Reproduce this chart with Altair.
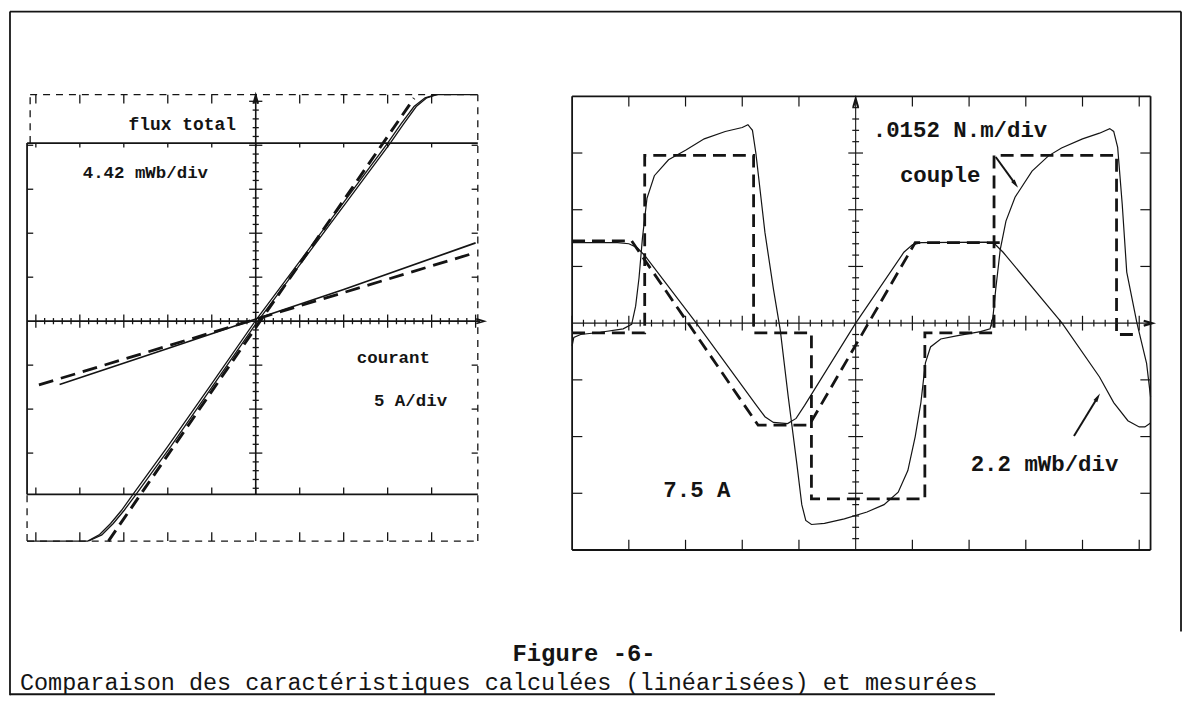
import altair as alt
import pandas as pd
import numpy as np

# ---------------- layout constants (page pixels) ----------------
W, H = 1180, 688
M = 8  # page margin
# left panel: origin and pixels per division
L_OX, L_OY, L_S = 257.0, 320.0, 44.2
# right panel
R_OX, R_OY, R_SX, R_SY = 860.0, 322.0, 57.0, 57.0

# ---------------- data: left panel (divisions) ----------------
# measured flux-current loop (two close branches)
lm1_x = [-5.2, -3.82, -3.55, -3.3, -3.05, -2.8, -2.0, -1.0, 0.0, 1.0, 2.0, 3.0, 3.3, 3.6, 3.85, 4.1, 5.05]
lm1_y = [-5.0, -5.0, -4.85, -4.6, -4.3, -3.95, -2.85, -1.42, 0.02, 1.36, 2.7, 4.05, 4.48, 4.88, 5.08, 5.15, 5.15]
lm2_x = [-3.80, -3.50, -3.24, -2.99, -2.73, -1.93, -0.94, 0.06, 1.06, 2.06, 3.06, 3.36, 3.65, 3.89, 4.12]
lm2_y = [-5.0, -4.86, -4.6, -4.3, -3.95, -2.85, -1.42, 0.02, 1.36, 2.7, 4.05, 4.48, 4.88, 5.08, 5.15]
# calculated (linearised) steep line
lc1_x = [-3.35, 3.6]
lc1_y = [-5.0, 5.07]
# measured shallow line
lm3_x = [-4.46, -2.0, 0.0, 2.0, 5.0]
lm3_y = [-1.44, -0.62, 0.05, 0.72, 1.78]
# calculated shallow line
lc2_x = [-4.93, 5.0]
lc2_y = [-1.45, 1.56]

left_text = ["flux total", "4.42 mWb/div", "courant", "5 A/div"]
left_text_x = [-1.67, -2.51, 3.13, 3.52]
left_text_y = [4.46, 3.37, -0.83, -1.81]

# ---------------- data: right panel (divisions) ----------------
flux_meas_x = [-5.0, -4.2, -4.0, -3.85, -3.7, -2.81, -1.75, -1.6, -1.45, -1.2, -1.05, -0.9, 0.0,
               0.85, 1.0, 1.15, 2.3, 2.45, 2.6, 3.64, 4.3, 4.55, 4.8, 5.0, 5.1, 5.2]
flux_meas_y = [1.42, 1.42, 1.40, 1.33, 1.17, 0.0, -1.45, -1.65, -1.75, -1.77, -1.68, -1.45, 0.0,
               1.25, 1.38, 1.42, 1.43, 1.40, 1.25, 0.0, -0.95, -1.40, -1.72, -1.83, -1.83, -1.76]
flux_calc_x = [-5.0, -3.95, -1.72, -0.82, 1.05, 2.6]
flux_calc_y = [1.45, 1.45, -1.80, -1.80, 1.42, 1.42]

torque_meas_x = [-5.0, -4.97, -4.85, -4.5, -4.1, -3.95, -3.88, -3.82, -3.76, -3.68, -3.55, -3.3, -3.0,
                 -2.67, -2.3, -2.0, -1.9, -1.82, -1.76, -1.6, -1.45, -1.33, -1.19, -1.04, -0.95, -0.88,
                 -0.78, -0.55, -0.2, 0.2, 0.5, 0.75, 0.92, 1.05, 1.15, 1.23, 1.32, 1.5, 1.8, 2.2, 2.37,
                 2.42, 2.47, 2.55, 2.65, 2.81, 3.11, 3.4, 3.63, 4.0, 4.3, 4.48, 4.55, 4.62, 4.7, 4.78,
                 4.96, 5.13, 5.2]
torque_meas_y = [-0.4, -0.25, -0.2, -0.16, -0.1, -0.02, 0.3, 0.8, 1.5, 2.2, 2.6, 2.88, 3.05,
                 3.25, 3.38, 3.45, 3.5, 3.4, 3.0, 1.6, 0.6, -0.12, -1.29, -2.46, -3.2, -3.48,
                 -3.55, -3.53, -3.45, -3.33, -3.2, -2.98, -2.6, -2.0, -1.4, -0.7, -0.42, -0.28, -0.22, -0.15, -0.1,
                 0.1, 0.6, 1.3, 1.8, 2.22, 2.68, 2.95, 3.09, 3.25, 3.35, 3.43, 3.38, 3.1, 2.1, 0.9,
                 0.0, -0.71, -1.3]
torque_calc_x = [-5.0, -3.72, -3.72, -1.8, -1.8, -0.78, -0.78, 1.22, 1.22, 2.44, 2.44, 4.6, 4.6, 4.9]
torque_calc_y = [-0.17, -0.17, 2.96, 2.96, -0.17, -0.17, -3.1, -3.1, -0.17, -0.17, 2.96, 2.96, -0.2, -0.2]

right_text = [".0152 N.m/div", "couple", "7.5 A", "2.2 mWb/div"]
right_text_x = [1.84, 1.49, -2.8, 3.33]
right_text_y = [3.40, 2.62, -2.95, -2.49]
# annotation arrows: start -> end
arrow_x0 = [2.47, 3.85]
arrow_y0 = [2.93, -1.99]
arrow_x1 = [2.81, 4.26]
arrow_y1 = [2.46, -1.32]
arrow_angle = [144, 31]

# ---------------- caption ----------------
cap_text = ["Figure -6-", "Comparaison des caractéristiques calculées (linéarisées) et mesurées"]

INK = "#141414"
FONT = "Liberation Mono"


def sc_x(ox, s):
    return alt.Scale(domain=[(M - ox) / s, (M + W - ox) / s], nice=False, zero=False)


def sc_y(oy, s):
    return alt.Scale(domain=[(oy - (M + H)) / s, (oy - M) / s], nice=False, zero=False)


def segs(rows):
    return pd.DataFrame(rows, columns=["x", "y", "x2", "y2"])


def rule_layer(df, sx, sy, width=1.4, dash=None, color=INK):
    kw = dict(strokeWidth=width, color=color)
    if dash:
        kw["strokeDash"] = dash
    return alt.Chart(df).mark_rule(**kw).encode(
        x=alt.X("x:Q", scale=sx, axis=None), x2="x2:Q",
        y=alt.Y("y:Q", scale=sy, axis=None), y2="y2:Q")


def line_layer(xs, ys, sx, sy, width=1.2, dash=None):
    df = pd.DataFrame({"x": xs, "y": ys, "i": range(len(xs))})
    kw = dict(strokeWidth=width, color=INK, strokeCap="butt")
    if dash:
        kw["strokeDash"] = dash
    return alt.Chart(df).mark_line(**kw).encode(
        x=alt.X("x:Q", scale=sx, axis=None), y=alt.Y("y:Q", scale=sy, axis=None), order="i:Q")


def text_layer(txt, xs, ys, sx, sy, size, weight="bold", align="center"):
    df = pd.DataFrame({"t": txt, "x": xs, "y": ys})
    return alt.Chart(df).mark_text(font=FONT, fontSize=size, fontWeight=weight, color=INK,
                                   align=align, baseline="middle").encode(
        x=alt.X("x:Q", scale=sx, axis=None), y=alt.Y("y:Q", scale=sy, axis=None), text="t:N")


def point_layer(xs, ys, sx, sy, shape, size, angle=0, filled=False, width=1.6):
    df = pd.DataFrame({"x": xs, "y": ys})
    return alt.Chart(df).mark_point(shape=shape, size=size, angle=angle, filled=filled,
                                    color=INK, strokeWidth=width, opacity=1).encode(
        x=alt.X("x:Q", scale=sx, axis=None), y=alt.Y("y:Q", scale=sy, axis=None))


UP = "M -0.55 0.9 L 0 -1 L 0.55 0.9"
RIGHT = "M -0.9 -0.55 L 1 0 L -0.9 0.55"
HEAD = "M 0 -1 L 0.42 0.7 L -0.42 0.7 Z"

# ================= LEFT PANEL =================
lsx, lsy = sc_x(L_OX, L_S), sc_y(L_OY, L_S)
L_LEFT, L_RIGHT, L_TOP, L_BOT = -5.2, 5.05, 5.15, -5.0
L_STOP, L_SBOT = 4.05, -3.94
minor = np.round(np.arange(-5.0, 5.01, 0.2), 2)
major = np.arange(-5, 6)

l_solid = segs([
    [L_LEFT, L_STOP, L_RIGHT, L_STOP],
    [L_LEFT, L_SBOT, L_RIGHT, L_SBOT],
    [L_LEFT, L_SBOT, L_LEFT, L_STOP],
])
l_axes = segs([
    [L_LEFT, 0, 5.1, 0],
    [0, L_SBOT, 0, L_TOP],
])
l_dash = segs([
    [-5.13, L_TOP, L_RIGHT, L_TOP],
    [L_LEFT, L_BOT, L_RIGHT, L_BOT],
    [-5.13, L_STOP, -5.13, L_TOP],
    [L_LEFT, L_BOT, L_LEFT, L_SBOT],
    [L_RIGHT, L_BOT, L_RIGHT, L_TOP],
])
rows = []
for v in minor:
    if abs(v) < 1e-9:
        continue
    big = abs(v - round(v)) < 1e-9
    h = 0.15 if big else 0.07
    rows.append([v, -h, v, h])                       # x-axis ticks
    if L_SBOT <= v <= L_TOP:
        rows.append([-h, v, h, v])                   # y-axis ticks
for v in major:
    if v < 5:
        rows.append([v, L_TOP, v, L_TOP - 0.2])      # top dashed border
        rows.append([v, L_BOT, v, L_BOT + 0.2])      # bottom dashed border
        rows.append([v, L_SBOT, v, L_SBOT + 0.16])   # lower solid line
        rows.append([v, L_STOP, v, L_STOP - 0.1])    # upper solid line
    if -3 <= v <= 4 and v != 0:
        rows.append([L_LEFT, v, L_LEFT + 0.14, v])
        rows.append([L_RIGHT, v, L_RIGHT - 0.14, v])
l_ticks = segs(rows)

left = alt.layer(
    rule_layer(l_dash, lsx, lsy, width=1.3, dash=[7, 6]),
    rule_layer(l_solid, lsx, lsy, width=1.8),
    rule_layer(l_axes, lsx, lsy, width=1.6),
    rule_layer(l_ticks, lsx, lsy, width=1.3),
    line_layer(lc1_x, lc1_y, lsx, lsy, width=3.0, dash=[13, 7]),
    line_layer(lc2_x, lc2_y, lsx, lsy, width=2.8, dash=[15, 8]),
    line_layer(lm1_x, lm1_y, lsx, lsy, width=1.3),
    line_layer(lm2_x, lm2_y, lsx, lsy, width=1.3),
    line_layer(lm3_x, lm3_y, lsx, lsy, width=1.7),
    point_layer([0], [L_TOP - 0.12], lsx, lsy, UP, 70, width=2.2),
    point_layer([5.1], [0], lsx, lsy, RIGHT, 70, width=1.6),
    text_layer(left_text[:1], left_text_x[:1], left_text_y[:1], lsx, lsy, 18),
    text_layer(left_text[1:], left_text_x[1:], left_text_y[1:], lsx, lsy, 17.5),
)

# ================= RIGHT PANEL =================
rsx, rsy = sc_x(R_OX, R_SX), sc_y(R_OY, R_SY)
R_LEFT, R_RIGHT, R_TOP, R_BOT = -5.0, 5.2, 4.0, -4.0
r_frame = segs([
    [R_LEFT, R_TOP, R_RIGHT, R_TOP],
    [R_LEFT, R_BOT, R_RIGHT, R_BOT],
    [R_LEFT, R_BOT, R_LEFT, R_TOP],
    [R_RIGHT, R_BOT, R_RIGHT, R_TOP],
])
r_axes = segs([
    [R_LEFT, 0, R_RIGHT, 0],
    [0, R_BOT, 0, R_TOP],
])
rows = []
for v in minor:
    if abs(v) < 1e-9:
        continue
    big = abs(v - round(v)) < 1e-9
    h = 0.13 if big else 0.06
    rows.append([v, -h, v, h])
    if R_BOT < v < R_TOP:
        rows.append([-h, v, h, v])
for v in range(-4, 6):
    if v != 0:
        rows.append([v, R_TOP, v, R_TOP - 0.18])
        rows.append([v, R_BOT, v, R_BOT + 0.18])
for v in range(-3, 4):
    if v != 0:
        rows.append([R_LEFT, v, R_LEFT + 0.18, v])
        rows.append([R_RIGHT, v, R_RIGHT - 0.18, v])
r_ticks = segs(rows)
r_arrows = pd.DataFrame({"x": arrow_x0, "y": arrow_y0, "x2": arrow_x1, "y2": arrow_y1})

right = alt.layer(
    rule_layer(r_frame, rsx, rsy, width=1.8),
    rule_layer(r_axes, rsx, rsy, width=1.1),
    rule_layer(r_ticks, rsx, rsy, width=1.2),
    line_layer(torque_calc_x, torque_calc_y, rsx, rsy, width=2.8, dash=[13, 7]),
    line_layer(flux_calc_x, flux_calc_y, rsx, rsy, width=2.8, dash=[13, 7]),
    line_layer(torque_meas_x, torque_meas_y, rsx, rsy, width=1.2),
    line_layer(flux_meas_x, flux_meas_y, rsx, rsy, width=1.2),
    point_layer([0], [R_TOP - 0.12], rsx, rsy, UP, 80, width=2.0),
    point_layer([R_RIGHT - 0.05], [0], rsx, rsy, RIGHT, 80, width=2.2),
    rule_layer(r_arrows, rsx, rsy, width=2.0),
    point_layer(arrow_x1[:1], arrow_y1[:1], rsx, rsy, HEAD, 110, angle=arrow_angle[0], filled=True),
    point_layer(arrow_x1[1:], arrow_y1[1:], rsx, rsy, HEAD, 110, angle=arrow_angle[1], filled=True),
    text_layer(right_text, right_text_x, right_text_y, rsx, rsy, 22.5),
)

# ================= PAGE (frame + caption) =================
psx = alt.Scale(domain=[M, M + W], nice=False, zero=False)
psy = alt.Scale(domain=[M + H, M], nice=False, zero=False)
frame = segs([
    [10, 8.8, 1187, 8.8],
    [10, 8.8, 10, 696],
    [1187, 8.8, 1187, 632],
    [10, 695, 1000, 695],
])
page = alt.layer(
    rule_layer(frame, psx, psy, width=1.8),
    text_layer(cap_text[:1], [587], [655], psx, psy, 24),
    text_layer(cap_text[1:], [20], [684], psx, psy, 23.6, weight="normal", align="left"),
)

chart = alt.layer(left, right, page).resolve_scale(x="independent", y="independent").properties(
    width=W, height=H, padding=0, background="white"
).configure_view(stroke=None)

chart.save("out.html", embed_options={"renderer": "svg", "actions": False})
